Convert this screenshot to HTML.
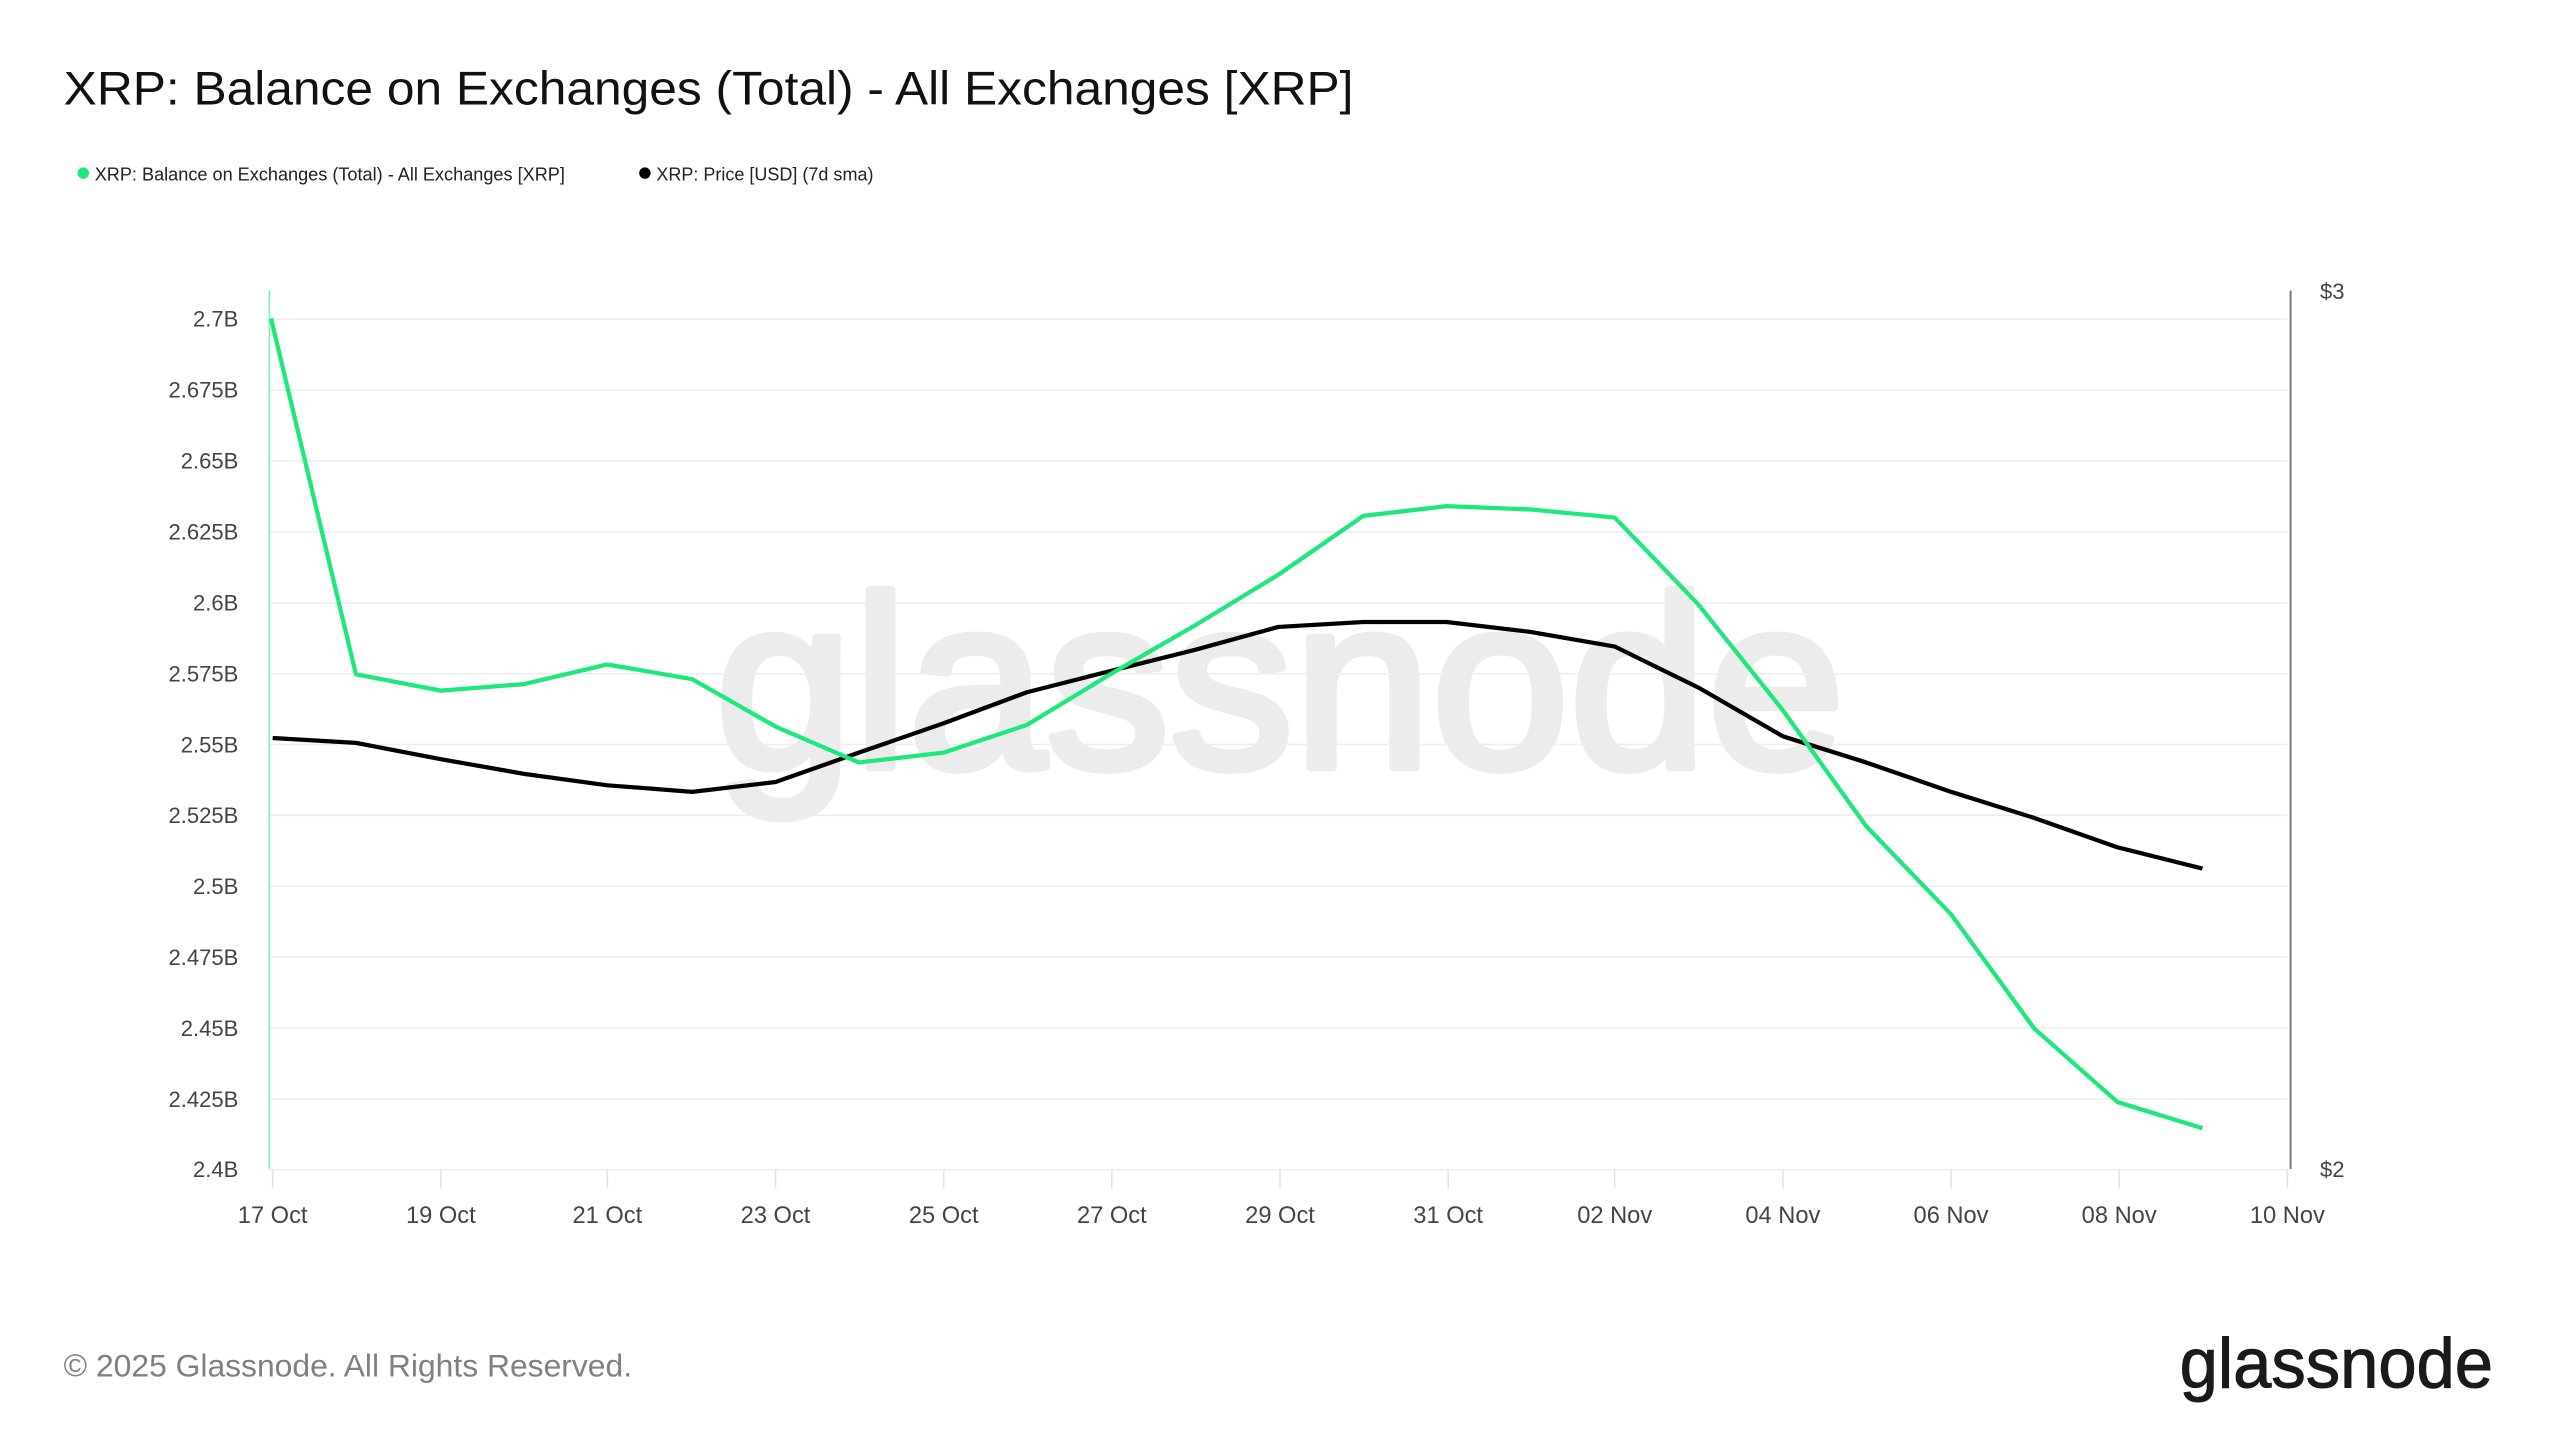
<!DOCTYPE html>
<html><head><meta charset="utf-8">
<style>
html,body{margin:0;padding:0;background:#fff;}
svg{display:block;}
</style></head>
<body>
<svg width="2560" height="1440" viewBox="0 0 1568 882" preserveAspectRatio="none" xmlns="http://www.w3.org/2000/svg" font-family="'Liberation Sans', sans-serif">
<rect width="1568" height="882" fill="#fff"/>
<text x="39" y="64" font-size="29" fill="#111" textLength="790" lengthAdjust="spacingAndGlyphs">XRP: Balance on Exchanges (Total) - All Exchanges [XRP]</text>
<circle cx="51" cy="106" r="3.5" fill="#1de87a"/>
<text x="58" y="110.5" font-size="11.5" fill="#222" textLength="288" lengthAdjust="spacingAndGlyphs">XRP: Balance on Exchanges (Total) - All Exchanges [XRP]</text>
<circle cx="395" cy="106" r="3.5" fill="#000"/>
<text x="402" y="110.5" font-size="11.5" fill="#222" textLength="133" lengthAdjust="spacingAndGlyphs">XRP: Price [USD] (7d sma)</text>

<text x="438" y="470" font-size="150" fill="#ececec" stroke="#ececec" stroke-width="5" stroke-linejoin="round" textLength="692" lengthAdjust="spacingAndGlyphs">glassnode</text>

<g stroke="#eeeeee" stroke-width="1">
<line x1="165" x2="1401" y1="195.5" y2="195.5"/>
<line x1="165" x2="1401" y1="239" y2="239"/>
<line x1="165" x2="1401" y1="282.4" y2="282.4"/>
<line x1="165" x2="1401" y1="325.8" y2="325.8"/>
<line x1="165" x2="1401" y1="369.2" y2="369.2"/>
<line x1="165" x2="1401" y1="412.6" y2="412.6"/>
<line x1="165" x2="1401" y1="456" y2="456"/>
<line x1="165" x2="1401" y1="499.4" y2="499.4"/>
<line x1="165" x2="1401" y1="542.8" y2="542.8"/>
<line x1="165" x2="1401" y1="586.2" y2="586.2"/>
<line x1="165" x2="1401" y1="629.6" y2="629.6"/>
<line x1="165" x2="1401" y1="673" y2="673"/>
<line x1="165" x2="1401" y1="716.5" y2="716.5"/>
</g>
<g stroke="#e4e4e4" stroke-width="1">
<line x1="167" x2="167" y1="716" y2="728"/>
<line x1="270" x2="270" y1="716" y2="728"/>
<line x1="372" x2="372" y1="716" y2="728"/>
<line x1="475" x2="475" y1="716" y2="728"/>
<line x1="578" x2="578" y1="716" y2="728"/>
<line x1="681" x2="681" y1="716" y2="728"/>
<line x1="784" x2="784" y1="716" y2="728"/>
<line x1="887" x2="887" y1="716" y2="728"/>
<line x1="989" x2="989" y1="716" y2="728"/>
<line x1="1092" x2="1092" y1="716" y2="728"/>
<line x1="1195" x2="1195" y1="716" y2="728"/>
<line x1="1298" x2="1298" y1="716" y2="728"/>
<line x1="1401" x2="1401" y1="716" y2="728"/>
</g>
<line x1="165" x2="165" y1="178" y2="716" stroke="#7ff0b4" stroke-width="1"/>
<line x1="1403" x2="1403" y1="178" y2="716" stroke="#777" stroke-width="1.2"/>

<g font-size="13.5" fill="#444" text-anchor="end">
<text x="146" y="200">2.7B</text>
<text x="146" y="243.5">2.675B</text>
<text x="146" y="287">2.65B</text>
<text x="146" y="330.5">2.625B</text>
<text x="146" y="374">2.6B</text>
<text x="146" y="417.5">2.575B</text>
<text x="146" y="461">2.55B</text>
<text x="146" y="504">2.525B</text>
<text x="146" y="547.5">2.5B</text>
<text x="146" y="591">2.475B</text>
<text x="146" y="634.5">2.45B</text>
<text x="146" y="678">2.425B</text>
<text x="146" y="721">2.4B</text>
</g>
<g font-size="13.5" fill="#444">
<text x="1421" y="183">$3</text>
<text x="1421" y="721">$2</text>
</g>
<g font-size="14.5" fill="#444" text-anchor="middle">
<text x="167" y="749">17 Oct</text>
<text x="270" y="749">19 Oct</text>
<text x="372" y="749">21 Oct</text>
<text x="475" y="749">23 Oct</text>
<text x="578" y="749">25 Oct</text>
<text x="681" y="749">27 Oct</text>
<text x="784" y="749">29 Oct</text>
<text x="887" y="749">31 Oct</text>
<text x="989" y="749">02 Nov</text>
<text x="1092" y="749">04 Nov</text>
<text x="1195" y="749">06 Nov</text>
<text x="1298" y="749">08 Nov</text>
<text x="1401" y="749">10 Nov</text>
</g>

<polyline fill="none" stroke="#000" stroke-width="2.6" stroke-linejoin="round" points="167,452 218,455 270,465 321,474 372,481 424,485 475,479 526,461 578,443 629,424 680,411 732,398 783,384 835,381 886,381 937,387 989,396 1040,421 1092,451 1143,467 1195,485 1246,501 1297,519 1349,532"/>
<polyline fill="none" stroke="#1de87a" stroke-width="2.6" stroke-linejoin="round" points="166,195 218,413 270,423 321,419 372,407 424,416 475,445 526,467 578,461 629,444 680,413 732,383 783,352 835,316 886,310 937,312 989,317 1040,370 1092,435 1143,506 1195,560 1246,630 1297,675 1349,691"/>

<text x="39" y="843" font-size="19.5" fill="#808080">© 2025 Glassnode. All Rights Reserved.</text>
<text x="1335" y="850" font-size="43" fill="#1a1a1a" stroke="#1a1a1a" stroke-width="0.6" textLength="192" lengthAdjust="spacingAndGlyphs">glassnode</text>
</svg>
</body></html>
